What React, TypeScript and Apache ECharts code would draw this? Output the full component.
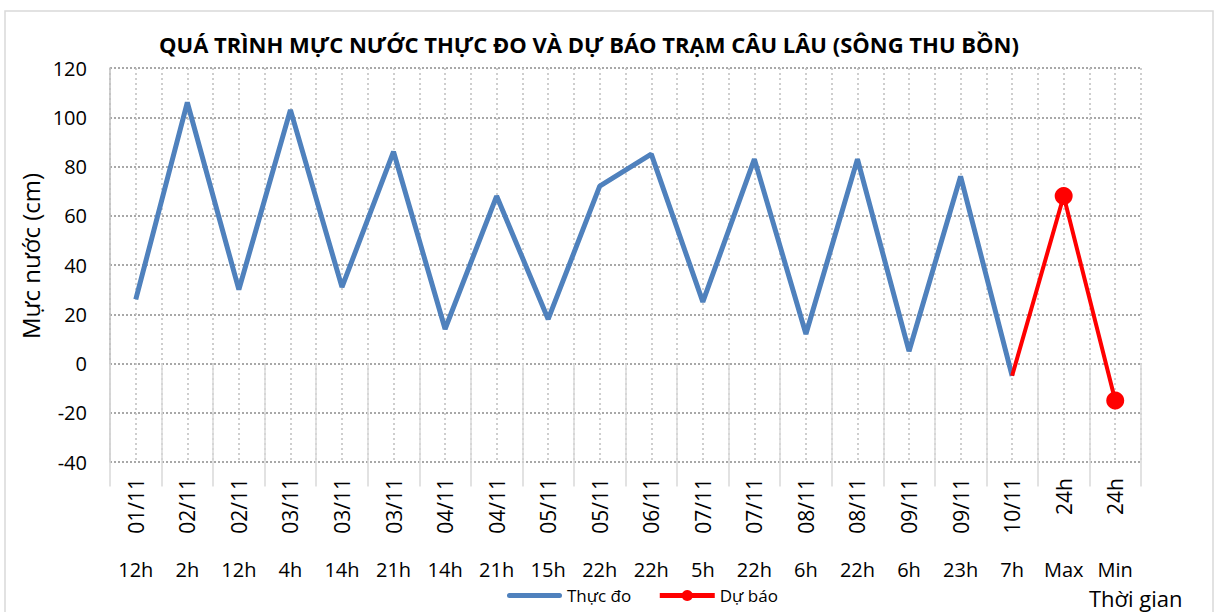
import React, { useEffect, useRef } from "react";
import * as echarts from "echarts";

const dates = ["01/11","02/11","02/11","03/11","03/11","03/11","04/11","04/11","05/11","05/11","06/11","07/11","07/11","08/11","08/11","09/11","09/11","10/11","24h","24h"];
const hours = ["12h","2h","12h","4h","14h","21h","14h","21h","15h","22h","22h","5h","22h","6h","22h","6h","23h","7h","Max","Min"];
const observed: (number | null)[] = [26,106,30,103,31,86,14,68,18,72,85,25,83,12,83,5,76,-5,null,null];
const forecast: (number | null)[] = [null,null,null,null,null,null,null,null,null,null,null,null,null,null,null,null,null,-5,68,-15];
const yTicks = { min: -40, max: 120, interval: 20 };

const FONT = "'Open Sans', 'Noto Sans', sans-serif";

export default function App() {
  const ref = useRef<HTMLDivElement>(null);
  useEffect(() => {
    if (!ref.current) return;
    const chart = echarts.init(ref.current, null, { renderer: "svg" });
    chart.setOption({
      animation: false,
      backgroundColor: "#fff",
      title: {
        text: "QUÁ TRÌNH MỰC NƯỚC THỰC ĐO VÀ DỰ BÁO TRẠM CÂU LÂU (SÔNG THU BỒN)",
        left: 154,
        top: 28,
        textStyle: { fontFamily: FONT, fontSize: 22, fontWeight: "bold", color: "#000" },
      },
      graphic: [
        { type: "rect", shape: { x: 5, y: 11, width: 1208, height: 610 }, style: { fill: "none", stroke: "#d9d9d9", lineWidth: 1.5 }, silent: true },
        { type: "text", left: 1089, top: 587, style: { text: "Thời gian", font: `22px ${FONT}`, fill: "#000" } },
        {
          type: "text",
          x: 30,
          y: 256,
          rotation: Math.PI / 2,
          style: { text: "Mực nước (cm)", font: `24px ${FONT}`, fill: "#000", align: "center", verticalAlign: "middle" },
        },
      ],
      legend: {
        left: 502,
        top: 582,
        itemWidth: 55,
        itemHeight: 14,
        itemGap: 26,
        symbolKeepAspect: true,
        textStyle: { fontFamily: FONT, fontSize: 17, color: "#000" },
        data: [
          { name: "Thực đo", icon: "path://M2.5,0 H52.5 A2.5,2.5 0 0 1 52.5,5 H2.5 A2.5,2.5 0 0 1 2.5,0 Z" },
          { name: "Dự báo", lineStyle: { width: 5 } },
        ],
      },
      grid: { left: 110, right: 76, top: 68, bottom: 150 },
      xAxis: [
        {
          type: "category",
          data: dates,
          position: "bottom",
          boundaryGap: true,
          axisLine: { show: false },
          axisTick: { show: true, interval: 0, length: 123, lineStyle: { color: "#d9d9d9", width: 1.5 } },
          axisLabel: { interval: 0, rotate: 90, margin: 16, fontFamily: FONT, fontSize: 21, color: "#000" },
          splitLine: { show: false },
        },
        {
          type: "category",
          data: hours,
          position: "bottom",
          boundaryGap: true,
          axisLine: { show: false },
          axisTick: { show: false },
          axisLabel: { interval: 0, margin: 97, fontFamily: FONT, fontSize: 20, color: "#000" },
          splitLine: { show: false },
        },
        {
          type: "value",
          min: 0,
          max: 40,
          interval: 1,
          position: "top",
          axisLine: { show: false },
          axisTick: { show: false },
          axisLabel: { show: false },
          splitLine: { show: true, lineStyle: { color: "#bfbfbf", type: [2, 3], width: 1.5 } },
        },
      ],
      yAxis: {
        type: "value",
        ...yTicks,
        axisLine: { show: true, lineStyle: { color: "#bfbfbf", width: 1.5 } },
        axisTick: { show: false },
        axisLabel: { margin: 23, fontFamily: FONT, fontSize: 20, color: "#000" },
        splitLine: { show: true, lineStyle: { color: "#8c8c8c", type: [2, 2], width: 1.5 } },
      },
      series: [
        {
          name: "Thực đo",
          type: "line",
          xAxisIndex: 0,
          data: observed,
          symbol: "none",
          color: "#4f81bd",
          lineStyle: { color: "#4f81bd", width: 5 },
          z: 3,
        },
        {
          name: "Dự báo",
          type: "line",
          xAxisIndex: 0,
          data: forecast.map((v, i) => (i === 17 ? { value: v, symbol: "none" } : v)),
          symbol: "circle",
          symbolSize: 18,
          color: "#ff0000",
          itemStyle: { color: "#ff0000" },
          lineStyle: { color: "#ff0000", width: 4 },
          z: 4,
        },
      ],
    });
    return () => chart.dispose();
  }, []);
  return <div ref={ref} style={{ position: "fixed", left: 0, top: 0, width: 1217, height: 612 }} />;
}
